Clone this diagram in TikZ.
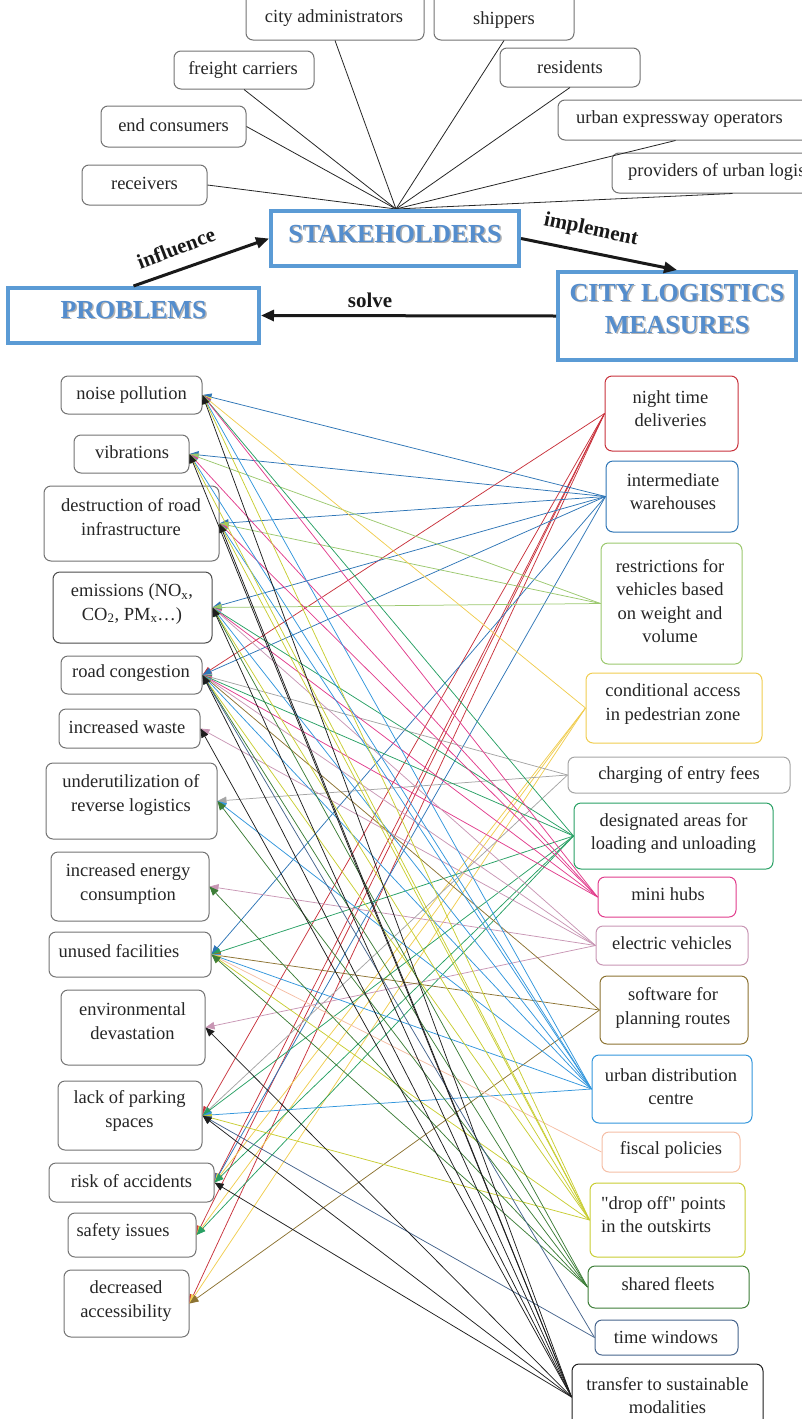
\documentclass[tikz,border=0pt]{standalone}
\usepackage{fontspec}
\setmainfont{Liberation Serif}
\newfontfamily\rawserif{Liberation Serif}[Ligatures=TeXOff]
\usetikzlibrary{arrows.meta}

\definecolor{ink}{RGB}{38,38,38}
\definecolor{boxgray}{RGB}{115,115,115}
\definecolor{bigblue}{RGB}{91,155,213}
\definecolor{bigtext}{RGB}{84,141,205}
\definecolor{cNight}{RGB}{200,50,60}
\definecolor{cWare}{RGB}{46,117,182}
\definecolor{cRestr}{RGB}{155,200,110}
\definecolor{cCond}{RGB}{240,205,80}
\definecolor{cCharge}{RGB}{165,165,165}
\definecolor{cDesig}{RGB}{40,160,100}
\definecolor{cMini}{RGB}{225,60,140}
\definecolor{cElec}{RGB}{200,150,180}
\definecolor{cSoft}{RGB}{140,115,50}
\definecolor{cUDC}{RGB}{50,150,220}
\definecolor{cFisc}{RGB}{245,190,165}
\definecolor{cDrop}{RGB}{200,205,50}
\definecolor{cShared}{RGB}{60,125,55}
\definecolor{cTime}{RGB}{70,100,140}
\definecolor{cTrans}{RGB}{30,30,30}

% box given by its corners, with its label placed separately
% #1 extra style, #2 name, #3-#6 corners x1 y1 x2 y2, #7 #8 label centre, #9 label
\newcommand\boxat[9]{%
  \node[sbox,#1,minimum width={#5-#3},minimum height={#6-#4}] (#2)
    at ({(#3+#5)/2},{(#4+#6)/2}) {};
  \node[txt] (#2-t) at (#7,#8) {#9};}

\begin{document}
\begin{tikzpicture}[x=1pt,y=-1pt,
  txt/.style={font=\fontsize{18.5}{23.4}\selectfont, text=ink, align=center, inner sep=0pt},
  sbox/.style={draw=boxgray, line width=1pt, rounded corners=7pt, fill=white, inner sep=0pt},
  big/.style={draw=bigblue, line width=4pt, fill=white, inner sep=0pt},
  bigtxt/.style={font=\fontsize{26}{32}\selectfont\bfseries, text=bigtext, align=center, inner sep=0pt},
  bigshade/.style={bigtxt, text=black, opacity=0.3},
  heavy/.style={line width=3pt, draw=black!90, -{Triangle[length=13pt,width=11pt]}},
  arrlab/.style={font=\fontsize{21}{24}\selectfont\bfseries, text=black!90, inner sep=0pt},
  spoke/.style={draw=black!85, line width=0.8pt},
  link/.style={draw=#1, line width=0.75pt, -{Triangle[length=9pt,width=7.5pt]}}
]
\useasboundingbox (0,0) rectangle (802,1419);
\clip (0,0) rectangle (802,1419);

% ---------- stakeholders ----------
\boxat{}{cityadm}{246}{-12}{424}{40}{334}{18}{city administrators}
\boxat{}{shippers}{434}{-12}{574}{40}{504}{20}{shippers}
\boxat{}{freight}{174}{51}{314}{89}{243}{70}{freight carriers}
\boxat{}{endcons}{101}{106}{246}{147}{173.5}{125}{end consumers}
\boxat{}{receivers}{82}{165}{207}{205}{144.5}{183}{receivers}
\boxat{}{residents}{500}{48}{640}{87}{570}{67}{residents}
\node[sbox,minimum width=272,minimum height=40] (urbanexp) at (694,120) {};
\node[txt,anchor=west] (urbanexp-t) at (576,119) {urban expressway operators};
\node[sbox,minimum width=288,minimum height=40] (providers) at (756,173) {};
\node[txt,anchor=west] (providers-t) at (628,172) {providers of urban logistics};

\coordinate (hub) at (396,209);
\draw[spoke] (hub) -- (receivers.east);
\draw[spoke] (hub) -- (endcons.east);
\draw[spoke] (hub) -- (freight.south);
\draw[spoke] (hub) -- (cityadm.south);
\draw[spoke] (hub) -- (shippers.south);
\draw[spoke] (hub) -- (residents.south);
\draw[spoke] (hub) -- ([xshift=118pt]urbanexp.south west);
\draw[spoke] (hub) -- ([xshift=121pt]providers.south west);

% ---------- main cycle ----------
\node[big,minimum width=248,minimum height=55] (stake) at (395,238.5) {};
\node[bigshade] (stake-s) at (396.5,235.5) {STAKEHOLDERS};
\node[bigtxt] (stake-t) at (395,234) {STAKEHOLDERS};
\node[big,minimum width=251,minimum height=55] (prob) at (133.5,315.5) {};
\node[bigshade] (prob-s) at (135,311.5) {PROBLEMS};
\node[bigtxt] (prob-t) at (133.5,310) {PROBLEMS};
\node[big,minimum width=238,minimum height=88] (clm) at (677,316) {};
\node[bigshade] (clm-s) at (678.5,310.5) {CITY LOGISTICS\\MEASURES};
\node[bigtxt] (clm-t) at (677,309) {CITY LOGISTICS\\MEASURES};

\draw[heavy] (prob.north) -- (stake.west);
\draw[heavy] (stake.east) -- (clm.north);
\draw[heavy] (clm.west) -- (prob.east);
\node[arrlab,rotate=21] (lab-infl) at (176,248) {influence};
\node[arrlab,rotate=-12] (lab-impl) at (591,230) {implement};
\node[arrlab] (lab-solve) at (370,300) {solve};

% ---------- problems ----------
\boxat{}{noise}{61}{376}{202}{414}{131.5}{395}{noise pollution}
\boxat{}{vib}{74}{435}{189}{473}{132}{452}{vibrations}
\boxat{}{road}{44}{486}{219}{561}{131}{517}{destruction of road\\infrastructure}
\boxat{draw=black!70}{emis}{53}{572}{212}{643}{132}{604}{emissions (NO\textsubscript{x},\\CO\textsubscript{2}, PM\textsubscript{x}…)}
\boxat{}{cong}{61}{656}{202}{694}{131}{673}{road congestion}
\boxat{}{waste}{59}{709}{200}{748}{127}{727}{increased waste}
\boxat{}{rev}{46}{763}{217}{839}{131}{795}{underutilization of\\reverse logistics}
\boxat{}{energy}{51}{852}{209}{921}{128}{884}{increased energy\\consumption}
\boxat{}{unused}{49}{932}{211}{977}{119}{951}{unused facilities}
\boxat{}{envdev}{61}{990}{205}{1065}{132.5}{1021}{environmental\\devastation}
\boxat{}{park}{58}{1081}{202}{1150}{129.5}{1111}{lack of parking\\spaces}
\boxat{}{risk}{49}{1163}{214}{1202}{131.5}{1181}{risk of accidents}
\boxat{}{safety}{68}{1213}{196}{1257}{123}{1232}{safety issues}
\boxat{}{access}{64}{1270}{189}{1337}{126}{1301}{decreased\\accessibility}

% ---------- measures ----------
\boxat{draw=cNight}{night}{605}{376}{738}{451}{670.5}{408.5}{night time\\deliveries}
\boxat{draw=cWare}{ware}{606}{461}{738}{532}{673}{491.5}{intermediate\\warehouses}
\boxat{draw=cRestr}{restr}{601}{543}{742}{664}{670}{601}{restrictions for\\vehicles based\\on weight and\\volume}
\boxat{draw=cCond}{cond}{586}{673}{762}{743}{673}{704}{conditional access\\in pedestrian zone}
\boxat{draw=cCharge}{charge}{568}{757}{790}{793}{679}{775}{charging of entry fees}
\boxat{draw=cDesig}{desig}{574}{803}{773}{869}{673.5}{833.5}{designated areas for\\loading and unloading}
\boxat{draw=cMini}{mini}{598}{877}{736}{917}{668}{894}{mini hubs}
\boxat{draw=cElec}{elec}{596}{926}{748}{965}{672}{943}{electric vehicles}
\boxat{draw=cSoft}{soft}{600}{976}{748}{1044}{673}{1008}{software for\\planning routes}
\boxat{draw=cUDC}{udc}{592}{1055}{752}{1123}{671}{1086.5}{urban distribution\\centre}
\boxat{draw=cFisc}{fisc}{602}{1132}{740}{1172}{671}{1150}{fiscal policies}
\node[sbox,draw=cDrop,minimum width=155,minimum height=74] (drop) at (667.5,1220) {};
\node[txt,align=left] (drop-t) at (663.5,1214.5) {{\rawserif"}drop off{\rawserif"} points\\in the outskirts};
\boxat{draw=cShared}{shared}{588}{1266}{749}{1308}{668}{1284}{shared fleets}
\boxat{draw=cTime}{time}{595}{1320}{738}{1355}{666}{1337}{time windows}
\boxat{draw=cTrans}{trans}{572}{1364}{763}{1430}{667.5}{1395.5}{transfer to sustainable\\modalities}

% ---------- links: measure -> problems it addresses ----------
\foreach \p in {cong,park,risk,safety,access}
  \draw[link=cNight] (night.west) -- (\p.east);
\foreach \p in {noise,vib,road,emis,cong,unused,risk}
  \draw[link=cWare] (ware.west) -- (\p.east);
\foreach \p in {vib,road,emis}
  \draw[link=cRestr] (restr.west) -- (\p.east);
\foreach \p in {noise,risk,safety,access}
  \draw[link=cCond] (cond.west) -- (\p.east);
\foreach \p in {cong,rev,park}
  \draw[link=cCharge] (charge.west) -- (\p.east);
\foreach \p in {noise,emis,cong,unused,park,risk,safety}
  \draw[link=cDesig] (desig.west) -- (\p.east);
\foreach \p in {noise,vib,road,emis,cong}
  \draw[link=cMini] (mini.west) -- (\p.east);
\foreach \p in {emis,cong,waste,energy,envdev}
  \draw[link=cElec] (elec.west) -- (\p.east);
\foreach \p in {cong,unused,access}
  \draw[link=cSoft] (soft.west) -- (\p.east);
\foreach \p in {noise,vib,road,emis,cong,rev,unused,park}
  \draw[link=cUDC] (udc.west) -- (\p.east);
\foreach \p in {unused}
  \draw[link=cFisc] (fisc.west) -- (\p.east);
\foreach \p in {noise,vib,road,emis,cong,unused,park}
  \draw[link=cDrop] (drop.west) -- (\p.east);
\foreach \p in {emis,cong,rev,energy,unused}
  \draw[link=cShared] (shared.west) -- (\p.east);
\foreach \p in {park,cong}
  \draw[link=cTime] (time.west) -- (\p.east);
\foreach \p in {noise,vib,road,emis,cong,waste,envdev,park,risk}
  \draw[link=cTrans] (trans.west) -- (\p.east);
\end{tikzpicture}
\end{document}
